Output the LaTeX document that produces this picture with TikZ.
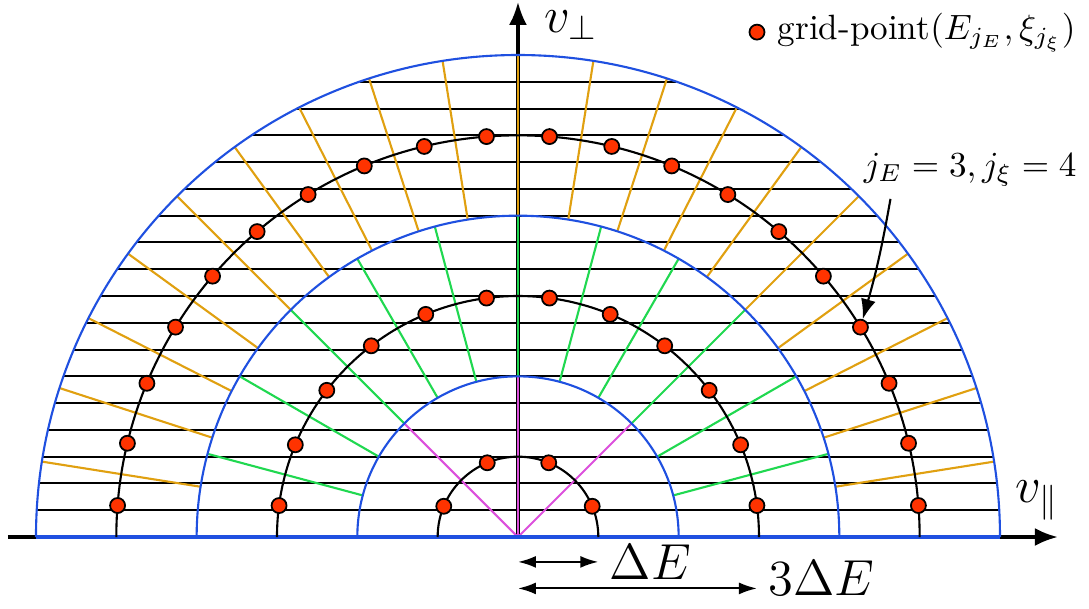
\documentclass[tikz,border=0pt]{standalone}
\usepackage{amsmath,amssymb}
\usepackage{xcolor}
\usepackage{tikz}
\usetikzlibrary{arrows.meta, positioning, calc}
\definecolor{ringblue}{HTML}{1F50E0}
\definecolor{cellorange}{HTML}{E0A010}
\definecolor{cellgreen}{HTML}{20D850}
\definecolor{cellmagenta}{HTML}{DC50DC}
\definecolor{dotred}{HTML}{FF3300}
\tikzstyle{ring} = [draw=ringblue, line width=0.6pt]
\tikzstyle{level} = [draw=black, line width=0.6pt]
\tikzstyle{chord} = [draw=black, line width=0.55pt]
\tikzstyle{cell} = [line width=0.6pt]
\tikzstyle{gridpt} = [circle, draw=black, fill=dotred, line width=0.5pt, minimum size=1.5mm, inner sep=0pt]
\tikzstyle{axislabel} = [font=\Large, inner sep=0pt]
\tikzstyle{spanlabel} = [font=\Large, inner sep=1pt, xshift=2pt]
\tikzstyle{axis} = [line width=0.9pt, -{Latex[length=2.3mm, width=1.8mm]}]
\tikzstyle{span} = [line width=0.6pt, {Latex[length=1.8mm, width=1.2mm]}-{Latex[length=1.8mm, width=1.2mm]}]
\tikzstyle{arrow} = [line width=0.6pt, -{Latex[length=2mm, width=1.5mm]}]

\begin{document}
\begin{tikzpicture}[x=8.033mm, y=8.033mm]
  \useasboundingbox (-6.448,-0.896) rectangle (7.108,6.685);

  \coordinate (o) at (0,0);
  \coordinate (xend) at (6.72,0);
  \coordinate (xstart) at (-6.35,0);
  \coordinate (yend) at (0,6.66);
  \draw[axis] (xstart) -- (xend);
  \draw[axis] (o) -- (yend);

  \foreach \k in {1,...,17}
    \draw[chord] ({-sqrt(36-(\k/3)^2)},\k/3) -- ({sqrt(36-(\k/3)^2)},\k/3);

  \foreach \i in {1,...,19}
    \draw[cell, cellorange] (9*\i:4) -- (9*\i:6);
  \foreach \i in {1,...,11}
    \draw[cell, cellgreen] (15*\i:2) -- (15*\i:4);
  \foreach \a in {45,90,135}
    \draw[cell, cellmagenta] (o) -- (\a:2);

  \foreach \r in {2,4,6}
    \draw[ring] (\r,0) arc (0:180:\r);
  \draw[ringblue, line width=1pt] (-6,0) -- (6,0);
  \foreach \r in {1,3,5}
    \draw[level] (\r,0) arc (0:180:\r);

  \foreach \r/\n/\j in {1/4/1, 3/12/2, 5/20/3}
    \foreach \i in {1,...,\n}
      \node[gridpt] (p\j-\i) at ({180/\n*(\i-0.5)}:\r) {};

  \node[axislabel] (vperp) at (0.66,6.37) {$v_\perp$};
  \node[axislabel] (vpar) at (6.46,0.46) {$v_\parallel$};

  \node[gridpt] (key) at (2.975,6.285) {};
  \node[right=0pt of key] (keytext) {grid-point$(E_{j_E},\xi_{j_\xi})$};

  \node (lbl) at (5.63,4.57) {$j_E = 3, j_\xi = 4$};
  \draw[arrow] (lbl.200) to[bend left=3] (p3-4);

  \coordinate (d1a) at (0,-0.31);
  \coordinate (d1b) at (1,-0.31);
  \coordinate (d3a) at (0,-0.64);
  \coordinate (d3b) at (2.975,-0.64);
  \draw[span] (d1a) -- (d1b) node[right, spanlabel] (d1) {$\Delta E$};
  \draw[span] (d3a) -- (d3b) node[right, spanlabel, yshift=3pt] (d3) {$3\Delta E$};
\end{tikzpicture}
\end{document}
